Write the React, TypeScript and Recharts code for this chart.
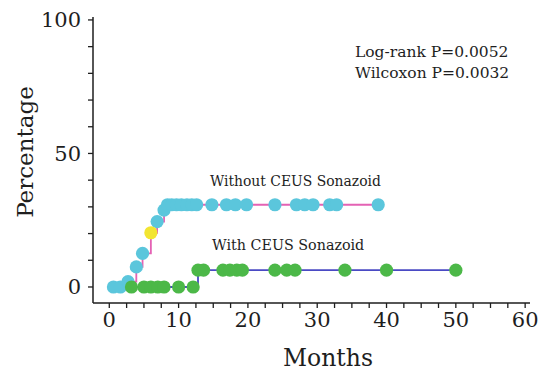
import { ComposedChart, Line, Scatter, XAxis, YAxis } from 'recharts'

// cumulative curves (step points), months vs percentage
const withoutStepMonths = [0, 2.7, 3.9, 4.8, 6, 6.9, 7.9, 8.4, 39]
const withoutStepPct = [0, 2, 7.5, 12.6, 20.3, 24.5, 28.8, 30.8, 30.8]
const withStepMonths = [3, 12.8, 50]
const withStepPct = [0, 6.3, 6.3]

// censor marks
const withoutDotMonths = [0.6, 1.6, 2.7, 3.9, 4.8, 6.9, 7.9, 8.4, 9.0, 9.7, 10.4, 11.2, 11.9, 12.6, 14.8, 16.9, 18.2, 19.8, 23.9, 27.0, 28.2, 29.4, 31.8, 32.8, 38.8]
const withoutDotPct = [0, 0, 2, 7.5, 12.6, 24.5, 28.8, 30.8, 30.8, 30.8, 30.8, 30.8, 30.8, 30.8, 30.8, 30.8, 30.8, 30.8, 30.8, 30.8, 30.8, 30.8, 30.8, 30.8, 30.8]
const highlightMonths = [6]
const highlightPct = [20.3]
const withDotMonths = [3.2, 5, 6, 7, 7.9, 10, 12.1, 12.8, 13.6, 16.4, 17.4, 18.4, 19.2, 23.9, 25.6, 26.8, 34, 40, 50]
const withDotPct = [0, 0, 0, 0, 0, 0, 0, 6.3, 6.3, 6.3, 6.3, 6.3, 6.3, 6.3, 6.3, 6.3, 6.3, 6.3, 6.3]

const xTicks = Array.from({ length: 25 }, (_, i) => i * 2.5)
const yTicks = [0, 10, 20, 30, 40, 50, 60, 70, 80, 90, 100]

const zip = (ms: number[], ps: number[]) => ms.map((m, i) => ({ m, p: ps[i] }))

const withoutLine = zip(withoutStepMonths, withoutStepPct)
const withLine = zip(withStepMonths, withStepPct)
const withoutDots = zip(withoutDotMonths, withoutDotPct)
const withDots = zip(withDotMonths, withDotPct)
const highlightDots = zip(highlightMonths, highlightPct)

const FONT = '"DejaVu Serif", serif'
const INK = '#1e1e1e'

const dot = (fill: string) => (props: any) => (
  <circle cx={props.cx} cy={props.cy} r={6.6} fill={fill} />
)

export default function App() {
  return (
    <div style={{ position: 'absolute', left: 0, top: 0, width: 542, height: 371, background: '#fff' }}>
      <ComposedChart width={542} height={371} margin={{ top: 17, right: 12, bottom: 18, left: 33 }}>
        <XAxis
          dataKey="m"
          type="number"
          domain={[-2.35, 60.7]}
          ticks={xTicks}
          interval={0}
          allowDataOverflow
          tickFormatter={(v: number) => (v % 10 === 0 ? String(v) : '')}
          tick={{ fontSize: 21, fill: INK, fontFamily: FONT }}
          tickSize={5}
          tickMargin={4}
          axisLine={{ stroke: INK, strokeWidth: 1.5 }}
          tickLine={{ stroke: INK, strokeWidth: 1.3 }}
          height={50}
        />
        <YAxis
          type="number"
          domain={[-6, 101.1]}
          ticks={yTicks}
          interval={0}
          allowDataOverflow
          tickFormatter={(v: number) => (v % 50 === 0 ? String(v) : '')}
          tick={{ fontSize: 21, fill: INK, fontFamily: FONT }}
          tickSize={5}
          tickMargin={7}
          axisLine={{ stroke: INK, strokeWidth: 1.5 }}
          tickLine={{ stroke: INK, strokeWidth: 1.3 }}
          width={60}
        />
        <Line data={withoutLine} dataKey="p" type="stepAfter" stroke="#e462b4" strokeWidth={1.8} dot={false} isAnimationActive={false} />
        <Line data={withLine} dataKey="p" type="stepAfter" stroke="#4a4ac4" strokeWidth={1.8} dot={false} isAnimationActive={false} />
        <Scatter data={withoutDots} dataKey="p" shape={dot('#5bc6dc')} isAnimationActive={false} />
        <Scatter data={withDots} dataKey="p" shape={dot('#4cb848')} isAnimationActive={false} />
        <Scatter data={highlightDots} dataKey="p" shape={dot('#f2e531')} isAnimationActive={false} />
      </ComposedChart>
      <svg width={542} height={371} style={{ position: 'absolute', left: 0, top: 0, pointerEvents: 'none' }}>
        <g fontFamily={FONT} fill={INK}>
          <text x={25} y={152} fontSize={23} textAnchor="middle" dominantBaseline="central" transform="rotate(-90 25 152)">Percentage</text>
          <text x={328} y={358} fontSize={23.5} textAnchor="middle" dominantBaseline="central">Months</text>
          <text x={355} y={52} fontSize={15.5} dominantBaseline="central">Log-rank P=0.0052</text>
          <text x={355} y={73} fontSize={15.5} dominantBaseline="central">Wilcoxon P=0.0032</text>
          <text x={210} y={181} fontSize={13.9} dominantBaseline="central">Without CEUS Sonazoid</text>
          <text x={212} y={245} fontSize={14.3} dominantBaseline="central">With CEUS Sonazoid</text>
        </g>
      </svg>
    </div>
  )
}
